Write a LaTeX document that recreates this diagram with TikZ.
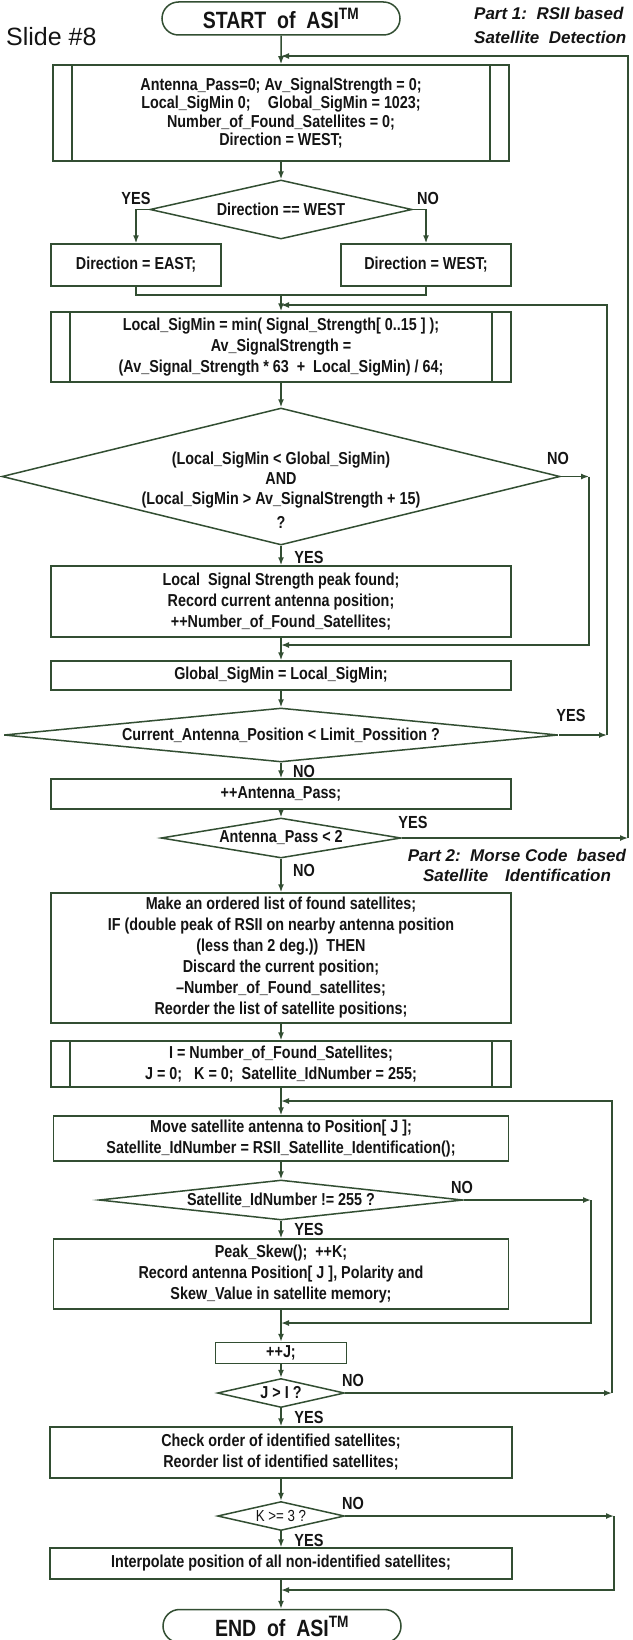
\documentclass[tikz,border=0pt]{standalone}
\usepackage{fontspec}
\setmainfont{Liberation Sans}[FakeStretch=0.83]
\newfontfamily\labelfont{Liberation Sans}
\usepackage{tikz}
\usetikzlibrary{arrows.meta, shapes.geometric, shapes.misc}
\definecolor{flowgreen}{RGB}{50,78,50}
\definecolor{flowink}{RGB}{20,20,20}
\newcommand{\flowfont}[2]{\fontsize{#1}{#2}\selectfont}
\tikzset{
  >={Latex[length=8,width=6]},  % frecce piene
  % Blocchi del diagramma
  block/.style={rectangle,draw=flowgreen,line width=1.5,fill=white,inner sep=0,
    align=center,text=flowink,font=\flowfont{17.3}{21}\bfseries},
  block sub/.style={block,path picture={
      \draw[flowgreen,line width=1.5]
        ([xshift=19]path picture bounding box.north west) -- ([xshift=19]path picture bounding box.south west)
        ([xshift=-19]path picture bounding box.north east) -- ([xshift=-19]path picture bounding box.south east);}},
  terminal/.style={rounded rectangle,draw=flowgreen,line width=1.5,fill=white,inner sep=0,
    minimum width=238,minimum height=33,text=flowink,font=\flowfont{23.5}{26}\bfseries},
  decision/.style={diamond,draw=flowgreen,line width=1.5,fill=white,inner sep=0},
  % Testi
  ask/.style={align=center,inner sep=0,text=flowink,font=\flowfont{17.3}{20}\bfseries},
  tag/.style={inner sep=0,text=flowink,font=\flowfont{17.5}{18}\bfseries},
  note/.style={inner sep=0,text=flowink},
  % Connessioni
  connect/.style={draw=flowgreen,line width=1.5},
  connect arrow/.style={connect,->}
}

\begin{document}
\begin{tikzpicture}[x=1pt,y=-1pt]
  \useasboundingbox (0,0) rectangle (632,1640);
  \node[note,anchor=west,font=\labelfont\flowfont{25}{28}] (slide) at (6,37) {Slide \#8};
  \node[note,anchor=west,align=left,font=\labelfont\flowfont{17}{24}\bfseries\itshape] (part one) at (474,25)
    {Part 1:\ \ RSII based\\Satellite\ \ Detection};
  \node[note,align=center,font=\labelfont\flowfont{17}{20}\bfseries\itshape] (part two) at (517,865)
    {Part 2:\ \ Morse Code\ \ based\\Satellite\quad Identification};

  \node[terminal] (start) at (281,18.5) {START\ \ of\ \ ASI\textsuperscript{TM}};
  \node[block sub,minimum width=456,minimum height=96,font=\flowfont{17.3}{18.5}\bfseries] (init) at (281,113)
    {Antenna\_Pass=0; Av\_SignalStrength = 0;\\
     Local\_SigMin 0;\quad Global\_SigMin = 1023;\\
     Number\_of\_Found\_Satellites = 0;\\
     Direction = WEST;};
  \node[decision,minimum width=262,minimum height=59] (dir) at (281,209.5) {};
  \node[ask] (dir text) at (dir) {Direction == WEST};
  \node[tag] (dir yes) at (136,198) {YES};
  \node[tag] (dir no) at (428,198) {NO};
  \node[block,minimum width=170,minimum height=42] (east) at (136,265) {Direction = EAST;};
  \node[block,minimum width=170,minimum height=42] (west) at (426,265) {Direction = WEST;};
  \node[block sub,minimum width=460,minimum height=70] (calc) at (281,347)
    {Local\_SigMin = min( Signal\_Strength[ 0..15 ] );\\
     Av\_SignalStrength =\\
     (Av\_Signal\_Strength * 63\ \ +\ \ Local\_SigMin) / 64;};
  \node[decision,minimum width=558,minimum height=137] (cmp) at (281,476.5) {};
  \node[ask] (cmp text) at (281,490)
    {(Local\_SigMin < Global\_SigMin)\\
     AND\\
     (Local\_SigMin > Av\_SignalStrength + 15)\\[4pt]
     ?};
  \node[tag] (cmp no) at (558,458) {NO};
  \node[tag] (cmp yes) at (309,557) {YES};
  \node[block,minimum width=460,minimum height=71] (found) at (281,601.5)
    {Local\ \ Signal Strength peak found;\\
     Record current antenna position;\\
     ++Number\_of\_Found\_Satellites;};
  \node[block,minimum width=460,minimum height=29] (gmin) at (281,675.5) {Global\_SigMin = Local\_SigMin;};
  \node[decision,minimum width=554,minimum height=54] (pos) at (281,735) {};
  \node[ask] (pos text) at (pos) {Current\_Antenna\_Position < Limit\_Possition ?};
  \node[tag] (pos yes) at (571,715) {YES};
  \node[tag] (pos no) at (304,771) {NO};
  \node[block,minimum width=460,minimum height=30] (pass) at (281,794) {++Antenna\_Pass;};
  \node[decision,minimum width=240,minimum height=40] (passq) at (281,838) {};
  \node[ask] (passq text) at (passq) {Antenna\_Pass < 2};
  \node[tag] (passq yes) at (413,822) {YES};
  \node[tag] (passq no) at (304,870) {NO};
  \node[block,minimum width=460,minimum height=130] (list) at (281,958)
    {Make an ordered list of found satellites;\\
     IF (double peak of RSII on nearby antenna position\\
     (less than 2 deg.))\ \ THEN\\
     Discard the current position;\\
     --Number\_of\_Found\_satellites;\\
     Reorder the list of satellite positions;};
  \node[block sub,minimum width=460,minimum height=46] (init2) at (281,1064)
    {I = Number\_of\_Found\_Satellites;\\
     J = 0;\ \ \ K = 0;\ \ Satellite\_IdNumber = 255;};
  \node[block,minimum width=455,minimum height=45] (move) at (281,1138.5)
    {Move satellite antenna to Position[ J ];\\
     Satellite\_IdNumber = RSII\_Satellite\_Identification();};
  \node[decision,minimum width=364,minimum height=40] (ident) at (281,1200) {};
  \node[ask] (ident text) at (ident) {Satellite\_IdNumber != 255 ?};
  \node[tag] (ident no) at (462,1187) {NO};
  \node[tag] (ident yes) at (309,1229) {YES};
  \node[block,minimum width=455,minimum height=70] (skew) at (281,1274)
    {Peak\_Skew();\ \ ++K;\\
     Record antenna Position[ J ], Polarity and\\
     Skew\_Value in satellite memory;};
  \node[block,minimum width=131,minimum height=21] (incj) at (281,1353) {++J;};
  \node[decision,minimum width=127,minimum height=29] (jgt) at (281,1393) {};
  \node[ask] (jgt text) at (jgt) {J > I ?};
  \node[tag] (jgt no) at (353,1380) {NO};
  \node[tag] (jgt yes) at (309,1417) {YES};
  \node[block,minimum width=462,minimum height=51] (check) at (281,1452.5)
    {Check order of identified satellites;\\
     Reorder list of identified satellites;};
  \node[decision,minimum width=127,minimum height=29] (kge) at (281,1516) {};
  \node[ask,font=\flowfont{16}{18}] (kge text) at (kge) {K >= 3 ?};
  \node[tag] (kge no) at (353,1503) {NO};
  \node[tag] (kge yes) at (309,1540) {YES};
  \node[block,minimum width=462,minimum height=31] (interp) at (281,1563.5)
    {Interpolate position of all non-identified satellites;};
  \node[terminal] (end) at (282,1626) {END\ \ of\ \ ASI\textsuperscript{TM}};

  \draw[connect arrow] (start) -- (init);
  \draw[connect arrow] (init) -- (dir);
  \draw[connect arrow] (dir.west) -| (east.north);
  \draw[connect arrow] (dir.east) -| (west.north);
  \coordinate (join dir) at (281,295);
  \draw[connect] (east.south) |- (join dir) -| (west.south);
  \draw[connect arrow] (join dir) -- (calc);
  \draw[connect arrow] (calc) -- (cmp);
  \draw[connect arrow] (cmp) -- (found);
  \draw[connect arrow] (found) -- (gmin);
  \draw[connect arrow] (gmin) -- (pos);
  \draw[connect arrow] (pos) -- (pass);
  \draw[connect arrow] (pass) -- (passq);
  \draw[connect arrow] (passq) -- (list);
  \draw[connect arrow] (list) -- (init2);
  \draw[connect arrow] (init2) -- (move);
  \draw[connect arrow] (move) -- (ident);
  \draw[connect arrow] (ident) -- (skew);
  \draw[connect arrow] (skew) -- (incj);
  \draw[connect arrow] (incj) -- (jgt);
  \draw[connect arrow] (jgt) -- (check);
  \draw[connect arrow] (check) -- (kge);
  \draw[connect arrow] (kge) -- (interp);
  \draw[connect arrow] (interp) -- (interp.south |- end.north);

  \coordinate (loop cmp) at (589,645);
  \draw[connect arrow] (cmp.east) -- (cmp.east -| loop cmp);
  \draw[connect arrow] (cmp.east -| loop cmp) -- (loop cmp) -- (loop cmp -| gmin.north);
  \coordinate (loop pos) at (607,305);
  \draw[connect arrow] (pos.east) -- (pos.east -| loop pos);
  \draw[connect arrow] (pos.east -| loop pos) -- (loop pos) -- (loop pos -| calc.north);
  \coordinate (loop pass) at (628,56);
  \draw[connect arrow] (passq.east) -- (passq.east -| loop pass);
  \draw[connect arrow] (passq.east -| loop pass) -- (loop pass) -- (loop pass -| init.north);
  \coordinate (loop jgt) at (612,1101);
  \draw[connect arrow] (jgt.east) -- (jgt.east -| loop jgt);
  \draw[connect arrow] (jgt.east -| loop jgt) -- (loop jgt) -- (loop jgt -| move.north);
  \coordinate (loop ident) at (591,1323);
  \draw[connect arrow] (ident.east) -- (ident.east -| loop ident);
  \draw[connect arrow] (ident.east -| loop ident) -- (loop ident) -- (loop ident -| incj.north);
  \coordinate (loop kge) at (614,1590);
  \draw[connect arrow] (kge.east) -- (kge.east -| loop kge);
  \draw[connect arrow] (kge.east -| loop kge) -- (loop kge) -- (loop kge -| interp.south);
\end{tikzpicture}
\end{document}
